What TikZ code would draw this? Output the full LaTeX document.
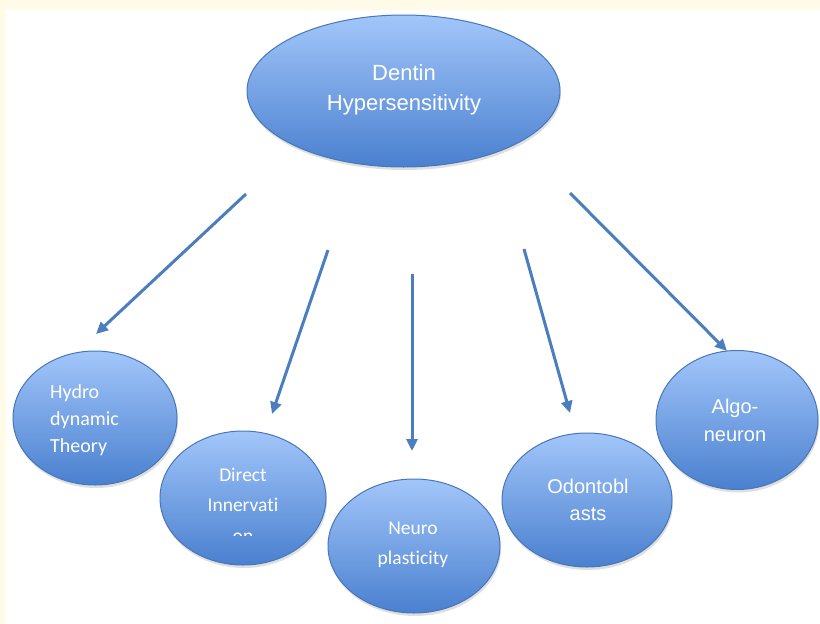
\documentclass[tikz,border=0pt]{standalone}
\usepackage{fontspec}
\setmainfont{Liberation Sans}
\newfontfamily\calfont[Ligatures={NoCommon,NoRequired,NoContextual}]{Carlito}
\usetikzlibrary{shapes.geometric,arrows.meta,shadows}
\definecolor{cream}{HTML}{FFFBE8}
\definecolor{topblue}{HTML}{A2C6FA}
\definecolor{botblue}{HTML}{4A80CF}
\definecolor{edgeblue}{HTML}{4677BA}
\definecolor{arrowblue}{HTML}{4A7EBE}
\tikzset{
  bubble/.style={ellipse, draw=edgeblue, line width=1pt, inner sep=0pt,
    top color=topblue, bottom color=botblue,
    drop shadow={shadow xshift=1pt, shadow yshift=-3pt, opacity=0.25}},
  lbl/.style={text=white, inner sep=0pt},
  conn/.style={draw=arrowblue, line width=3pt, -{Triangle[length=12pt,width=11pt]}}
}
\begin{document}
\begin{tikzpicture}[x=1pt,y=-1pt]
\fill[cream] (0,0) rectangle (820,624);
\fill[white] (6,10) rectangle (820,624);
\useasboundingbox (0,0) rectangle (820,624);

\node[bubble, minimum width=313pt, minimum height=152pt] (root) at (403.5,91) {};
\node[bubble, minimum width=164pt, minimum height=134pt] (hydro) at (95,418) {};
\node[bubble, minimum width=166pt, minimum height=134pt] (direct) at (243,498) {};
\node[bubble, minimum width=172pt, minimum height=134pt] (neuro) at (414,546) {};
\node[bubble, minimum width=170pt, minimum height=134pt] (odonto) at (587,500) {};
\node[bubble, minimum width=162pt, minimum height=139pt] (algo) at (737,420) {};

\node[lbl, align=center, font=\fontsize{22}{30}\selectfont] (rootl) at (404,90) {Dentin\\Hypersensitivity};
\node[lbl, align=left, font=\calfont\fontsize{20}{27}\selectfont, anchor=west] (hydrol) at (50,420) {Hydro\\dynamic\\Theory};
\begin{scope}
\clip (150,450) rectangle (340,535.5);
\node[lbl, align=center, font=\calfont\fontsize{19.5}{30.5}\selectfont] (directl) at (243,505) {Direct\\Innervati\\on};
\end{scope}
\node[lbl, align=center, font=\calfont\fontsize{19.5}{30}\selectfont] (neurol) at (413,545) {Neuro\\plasticity};
\node[lbl, align=center, font=\fontsize{20}{27}\selectfont] (odontol) at (588,500) {Odontobl\\asts};
\node[lbl, align=center, font=\fontsize{20}{28}\selectfont] (algol) at (735,420) {Algo-\\neuron};

\coordinate (s1) at (246,194); \coordinate (e1) at (96,334);
\coordinate (s2) at (328,250); \coordinate (e2) at (272,414);
\coordinate (s3) at (412,274); \coordinate (e3) at (412,451);
\coordinate (s4) at (524,249); \coordinate (e4) at (570,413);
\coordinate (s5) at (570,193); \coordinate (e5) at (727,351);
\draw[conn] (s1) -- (e1);
\draw[conn] (s2) -- (e2);
\draw[conn] (s3) -- (e3);
\draw[conn] (s4) -- (e4);
\draw[conn] (s5) -- (e5);
\end{tikzpicture}
\end{document}
